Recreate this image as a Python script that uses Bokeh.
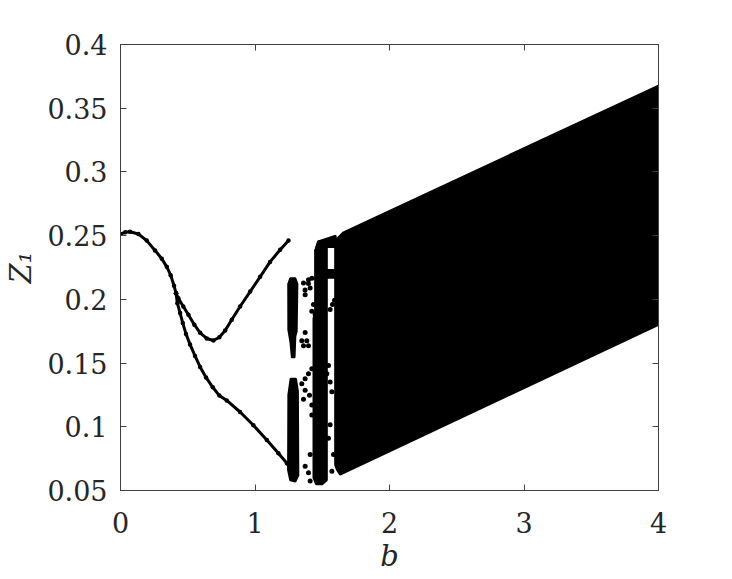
from bokeh.plotting import figure
from bokeh.models import LinearAxis, FixedTicker
from bokeh.embed import file_html
from bokeh.resources import INLINE

# ---- data ----
x_ticks = [0, 1, 2, 3, 4]
x_tick_labels = ["0", "1", "2", "3", "4"]
y_ticks = [0.05, 0.1, 0.15, 0.2, 0.25, 0.3, 0.35, 0.4]
y_tick_labels = ["0.05", "0.1", "0.15", "0.2", "0.25", "0.3", "0.35", "0.4"]

# single branch (period 1)
b_stem = [0.0, 0.035, 0.071, 0.133, 0.195, 0.257, 0.307, 0.344, 0.373, 0.398, 0.413]
z_stem = [0.2513, 0.2526, 0.2531, 0.2513, 0.2461, 0.2384, 0.2319, 0.2255, 0.2190, 0.2107, 0.2047]

# upper branch after bifurcation
b_up = [0.413, 0.430, 0.467, 0.505, 0.549, 0.592, 0.641, 0.691, 0.735, 0.778,
        0.827, 0.889, 0.964, 1.038, 1.112, 1.187, 1.249]
z_up = [0.2047, 0.2009, 0.1944, 0.1879, 0.1801, 0.1737, 0.1693, 0.1677, 0.1703, 0.1755,
        0.1840, 0.1944, 0.2061, 0.2177, 0.2294, 0.2389, 0.2461]

# lower branch after bifurcation
b_low = [0.413, 0.423, 0.443, 0.463, 0.487, 0.517, 0.554, 0.592, 0.636, 0.686,
         0.735, 0.790, 0.889, 0.988, 1.088, 1.174, 1.237, 1.266]
z_low = [0.2047, 0.1970, 0.1892, 0.1814, 0.1729, 0.1646, 0.1556, 0.1470, 0.1387, 0.1310,
         0.1245, 0.1207, 0.1116, 0.1012, 0.0896, 0.0792, 0.0714, 0.0663]

# dense (chaotic) bands, outlines
band_a_up_b = [1.247, 1.262, 1.300, 1.315, 1.310, 1.300, 1.294, 1.274, 1.264, 1.248]
band_a_up_z = [0.212, 0.2166, 0.2166, 0.212, 0.175, 0.171, 0.1545, 0.1545, 0.166, 0.176]

band_a_low_b = [1.248, 1.265, 1.304, 1.319, 1.322, 1.300, 1.262, 1.246]
band_a_low_z = [0.125, 0.1377, 0.1377, 0.128, 0.062, 0.057, 0.058, 0.066]

band_b_b = [1.447, 1.470, 1.534, 1.534, 1.500, 1.455, 1.435, 1.435, 1.447]
band_b_z = [0.238, 0.2455, 0.246, 0.058, 0.0549, 0.0549, 0.060, 0.185, 0.190]

cap_b = [1.447, 1.470, 1.600, 1.600, 1.535]
cap_z = [0.238, 0.2455, 0.2500, 0.241, 0.241]

bar_mid_b = [1.534, 1.600, 1.600, 1.534]
bar_mid_z = [0.223, 0.223, 0.217, 0.217]

dense_b = [1.596, 1.609, 1.658, 4.0, 4.0, 1.633, 1.609, 1.596]
dense_z = [0.240, 0.2474, 0.2526, 0.3678, 0.1800, 0.0624, 0.0663, 0.070]

# isolated points in the transition region
dots_b = [1.3604, 1.3976, 1.3728, 1.410, 1.4348, 1.4224, 1.4472, 1.5588, 1.5762, 1.5911,
          1.3728, 1.3852, 1.348, 1.3604, 1.3976, 1.4224, 1.3976, 1.3728, 1.348, 1.3728,
          1.405, 1.3604, 1.4224, 1.4224, 1.5464, 1.534, 1.5588, 1.5712, 1.5588, 1.5464,
          1.410, 1.3728, 1.3976, 1.410, 1.5836, 1.5712, 1.372, 1.397, 1.423]
dots_z = [0.2128, 0.2153, 0.2037, 0.2089, 0.1959, 0.1907, 0.1882, 0.1920, 0.1959, 0.1993,
          0.1739, 0.1675, 0.1675, 0.1636, 0.1636, 0.1455, 0.1416, 0.1377, 0.1338, 0.1286,
          0.1248, 0.1216, 0.1170, 0.1092, 0.1481, 0.1416, 0.1351, 0.1274, 0.1015, 0.0911,
          0.0782, 0.0691, 0.0640, 0.0575, 0.0782, 0.0652, 0.2073, 0.2125, 0.2166]

# ---- figure ----
FONT = "DejaVu Serif"
TXT = "#262626"
EDGE = "#404040"

p = figure(width=720, height=575, x_range=(0, 4), y_range=(0.05, 0.4),
           output_backend="svg", toolbar_location=None,
           min_border_left=120, min_border_right=62,
           min_border_top=44, min_border_bottom=81)
p.grid.visible = False
p.outline_line_color = EDGE
p.outline_line_width = 1
p.background_fill_color = "white"
p.border_fill_color = "white"

for ax, ticks, labels in ((p.xaxis[0], x_ticks, x_tick_labels),
                          (p.yaxis[0], y_ticks, y_tick_labels)):
    ax.ticker = FixedTicker(ticks=ticks)
    ax.major_label_overrides = {t: l for t, l in zip(ticks, labels)}
    ax.major_tick_in = 6
    ax.major_tick_out = 0
    ax.minor_tick_line_color = None
    ax.major_tick_line_color = EDGE
    ax.axis_line_color = EDGE
    ax.major_label_text_font = FONT
    ax.major_label_text_font_size = "27px"
    ax.major_label_text_color = TXT
    ax.axis_label_text_font = FONT
    ax.axis_label_text_font_size = "29px"
    ax.axis_label_text_font_style = "italic"
    ax.axis_label_text_color = TXT

p.xaxis.axis_label = "b"
p.xaxis.major_label_standoff = 21
p.xaxis.axis_label_standoff = 3
p.yaxis.axis_label = "Z\u2081"
p.yaxis.major_label_standoff = 13
p.yaxis.axis_label_standoff = 6

for loc, ticks in (("right", y_ticks), ("above", x_ticks)):
    ax = LinearAxis(ticker=FixedTicker(ticks=ticks),
                    major_label_overrides={t: "" for t in ticks},
                    major_tick_in=6, major_tick_out=0,
                    minor_tick_line_color=None,
                    major_tick_line_color=EDGE, axis_line_color=EDGE,
                    major_label_text_font_size="0px",
                    major_label_standoff=0)
    p.add_layout(ax, loc)

BLACK = "#000000"
# dense bands
p.patches(xs=[dense_b, band_a_up_b, band_a_low_b, band_b_b, cap_b, bar_mid_b],
          ys=[dense_z, band_a_up_z, band_a_low_z, band_b_z, cap_z, bar_mid_z],
          fill_color=BLACK, line_color=BLACK, line_width=2)

# periodic branches
for bb, zz in ((b_stem, z_stem), (b_up, z_up), (b_low, z_low)):
    p.line(bb, zz, line_color=BLACK, line_width=3)
    p.scatter(bb, zz, size=4.5, fill_color=BLACK, line_color=None)

p.scatter(dots_b, dots_z, size=5, fill_color=BLACK, line_color=None)

open("out.html", "w").write(file_html(p, INLINE))
